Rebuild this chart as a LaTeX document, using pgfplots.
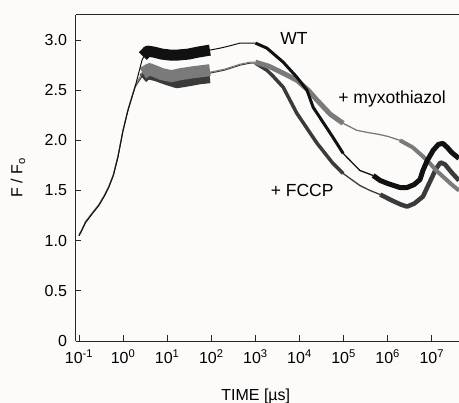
\documentclass[border=0pt]{standalone}
\usepackage{fontspec}
\setmainfont{Liberation Sans}
\usepackage{pgfplots}
\pgfplotsset{compat=1.18}
\definecolor{wt}{HTML}{111111}
\definecolor{myx}{HTML}{7A7A7A}
\definecolor{fccp}{HTML}{3A3A3A}
\definecolor{bg}{HTML}{FCFBFA}
\begin{document}
\fontsize{16bp}{19bp}\selectfont
\begin{tikzpicture}
\fill[bg] (0,0) rectangle (459bp,403bp);
\useasboundingbox (0,0) rectangle (459bp,403bp);
\begin{axis}[
  at={(75.5bp,62bp)}, anchor=south west,
  scale only axis, width=383.5bp, height=326bp,
  clip mode=individual,
  xmode=log, xmin=0.0833, xmax=4.14e7, ymin=0, ymax=3.25,
  axis x line*=bottom, axis y line*=left,
  axis line style={-, line width=1bp, color=black!85},
  tick align=inside, major tick length=6bp,
  tick style={line width=0.9bp, color=black!85},
  tick label style={font=\fontsize{16bp}{19bp}\selectfont},
  xtick={1e-1,1,10,100,1e3,1e4,1e5,1e6,1e7},
  xticklabels={10\textsuperscript{-1},10\textsuperscript{0},10\textsuperscript{1},10\textsuperscript{2},10\textsuperscript{3},10\textsuperscript{4},10\textsuperscript{5},10\textsuperscript{6},10\textsuperscript{7}},
  xminorticks=false,
  xticklabel style={yshift=-3bp},
  ytick={0,0.5,1.0,1.5,2.0,2.5,3.0},
  yticklabels={0,0.5,1.0,1.5,2.0,2.5,3.0},
  yticklabel style={xshift=-3bp},
  every axis plot/.append style={mark=none, line join=round, line cap=butt},
]
% ---------- FCCP ----------
\addplot[color=fccp, line width=1bp] coordinates {(0.1,1.05)(0.115,1.10)(0.14,1.18)(0.2,1.27)(0.28,1.35)(0.37,1.44)(0.47,1.53)(0.6,1.65)(0.76,1.83)(1.0,2.10)(1.29,2.30)(1.86,2.53)(2.69,2.64)(3.0,2.65)};
\addplot[color=fccp, line width=10bp] coordinates {(2.8,2.62)(3.6,2.66)(5.6,2.64)(10,2.60)(16.7,2.57)(31.6,2.59)(56,2.61)(93,2.62)};
\addplot[color=fccp, line width=1bp] coordinates {(93,2.67)(200,2.70)(450,2.75)(760,2.77)(1000,2.77)};
\addplot[color=fccp, line width=3.5bp] coordinates {(1000,2.77)(1820,2.70)(2510,2.64)(4270,2.53)(8710,2.27)(25100,1.97)(57500,1.77)(97700,1.67)};
\addplot[color=fccp, line width=1.3bp] coordinates {(97700,1.67)(234000,1.55)(400000,1.50)(676000,1.46)};
\addplot[color=fccp, line width=4.5bp] coordinates {(676000,1.46)(1.26e6,1.40)(2e6,1.36)(2.75e6,1.34)(4e6,1.37)(6.3e6,1.44)(8.9e6,1.58)(1.26e7,1.72)(1.58e7,1.78)(2e7,1.76)(2.82e7,1.68)(4.14e7,1.60)};
% ---------- + myxothiazol ----------
\addplot[color=myx, line width=1bp] coordinates {(0.1,1.06)(0.115,1.11)(0.14,1.19)(0.2,1.28)(0.28,1.36)(0.37,1.45)(0.47,1.54)(0.6,1.66)(0.76,1.84)(1.0,2.11)(1.29,2.31)(1.86,2.54)(2.69,2.67)(3.0,2.69)};
\addplot[color=myx, line width=12bp] coordinates {(2.8,2.67)(4.0,2.71)(7.6,2.66)(12.6,2.64)(20,2.66)(40,2.68)(93,2.70)};
\addplot[color=myx, line width=1bp] coordinates {(93,2.68)(200,2.71)(450,2.76)(760,2.78)(1000,2.78)};
\addplot[color=myx, line width=5bp] coordinates {(1000,2.78)(2000,2.74)(4270,2.67)(8710,2.60)(15800,2.50)(25100,2.40)(50100,2.26)(97700,2.17)};
\addplot[color=myx, line width=1.3bp] coordinates {(97700,2.17)(200000,2.10)(339000,2.08)(631000,2.06)(1e6,2.04)(1.9e6,2.00)};
\addplot[color=myx, line width=4bp] coordinates {(1.9e6,2.00)(3.7e6,1.93)(6.3e6,1.84)(9.1e6,1.77)(1.26e7,1.70)(2e7,1.62)(2.82e7,1.56)(4.14e7,1.50)};
% ---------- WT ----------
\addplot[color=wt, line width=1bp] coordinates {(0.1,1.05)(0.115,1.10)(0.14,1.18)(0.2,1.27)(0.28,1.35)(0.37,1.44)(0.47,1.53)(0.6,1.65)(0.76,1.83)(1.0,2.10)(1.29,2.30)(1.86,2.53)(2.69,2.80)(3.0,2.84)};
\addplot[color=wt, line width=11bp] coordinates {(2.8,2.84)(3.6,2.89)(5.0,2.88)(7.6,2.86)(12,2.85)(16.7,2.85)(30,2.86)(50,2.88)(93,2.90)};
\addplot[color=wt, line width=1bp] coordinates {(93,2.90)(160,2.92)(250,2.94)(450,2.97)(760,2.97)(1000,2.97)};
\addplot[color=wt, line width=3bp] coordinates {(1000,2.97)(1820,2.92)(4270,2.78)(8710,2.63)(14800,2.50)(20400,2.33)(57500,2.03)(97700,1.87)};
\addplot[color=wt, line width=1.3bp] coordinates {(97700,1.87)(234000,1.70)(468000,1.65)};
\addplot[color=wt, line width=5bp] coordinates {(468000,1.65)(676000,1.60)(1e6,1.57)(1.9e6,1.53)(2.75e6,1.53)(4e6,1.56)(5.4e6,1.61)(6.3e6,1.70)(7.9e6,1.80)(1.07e7,1.90)(1.41e7,1.96)(1.78e7,1.97)(2.24e7,1.93)(2.82e7,1.88)(4.14e7,1.82)};
% ---------- annotations ----------
\node[font=\fontsize{17.5bp}{20bp}\selectfont] at (axis cs:7500,3.02) {WT};
\node[font=\fontsize{17.5bp}{20bp}\selectfont] at (axis cs:1.26e6,2.41) {+ myxothiazol};
\node[font=\fontsize{17.5bp}{20bp}\selectfont] at (axis cs:1.15e4,1.505) {+ FCCP};
\draw[line width=1bp, color=black!85] (rel axis cs:0,1) -- (rel axis cs:1,1);
\node[rotate=90] at ([xshift=-57.5bp]rel axis cs:0,0.5) {F / F\textsubscript{o}};
\node[anchor=base] at ([yshift=-59bp]rel axis cs:0.47,0) {TIME [µs]};
\end{axis}
\end{tikzpicture}
\end{document}
